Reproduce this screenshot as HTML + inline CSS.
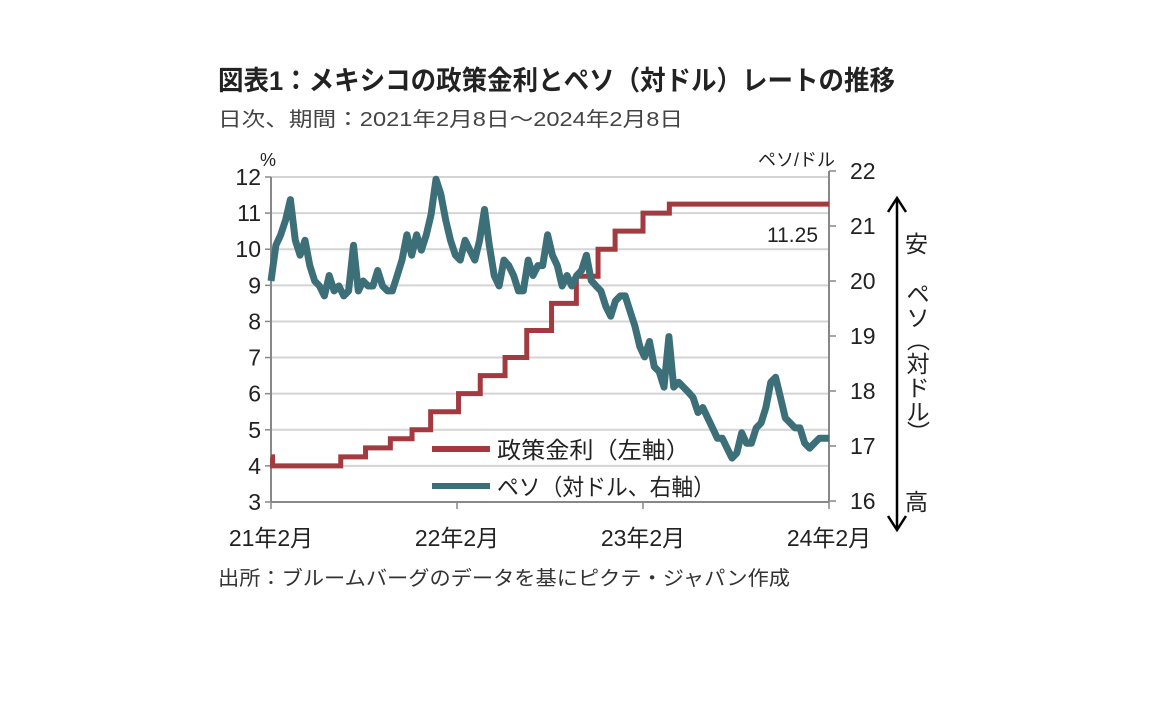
<!DOCTYPE html>
<html><head><meta charset="utf-8"><style>
body{margin:0;background:#fff;width:1152px;height:720px;overflow:hidden}
svg{display:block}
text{font-family:"Liberation Sans","Noto Sans CJK JP",sans-serif}
</style></head><body>
<svg id="chart" width="1152" height="720" viewBox="0 0 1152 720">
<text x="218" y="90" font-size="27" font-weight="bold" fill="#222" textLength="677" lengthAdjust="spacingAndGlyphs">図表1：メキシコの政策金利とペソ（対ドル）レートの推移</text>
<text x="218" y="126" font-size="20" fill="#444" textLength="465" lengthAdjust="spacingAndGlyphs">日次、期間：2021年2月8日～2024年2月8日</text>
<text x="260" y="166" font-size="18" fill="#222">%</text>
<text x="758" y="166" font-size="18" fill="#222">ペソ/ドル</text>
<g id="grid"></g><g id="axes"></g><g id="series"></g>
<text x="818" y="242" font-size="21" text-anchor="end" fill="#222">11.25</text>
<line x1="432" y1="449" x2="490" y2="449" stroke="#a23a3f" stroke-width="6"/>
<text x="497" y="458" font-size="23" fill="#222" textLength="193" lengthAdjust="spacingAndGlyphs">政策金利（左軸）</text>
<line x1="432" y1="486" x2="490" y2="486" stroke="#3d6f78" stroke-width="6"/>
<text x="497" y="495" font-size="23" fill="#222" textLength="218" lengthAdjust="spacingAndGlyphs">ペソ（対ドル、右軸）</text>
<g stroke="#000" stroke-width="2.5" fill="none">
<line x1="897" y1="198" x2="897" y2="530"/><polyline points="888,212 897,198 906,212"/><polyline points="888,516 897,530 906,516"/></g>
<text x="905" y="252" font-size="23" fill="#222">安</text>
<g font-size="23" fill="#222" text-anchor="middle">
<text x="918" y="302">ペ</text><text x="918" y="326">ソ</text><text x="918" y="348" transform="rotate(90 918 340)">（</text><text x="918" y="372">対</text><text x="918" y="396">ド</text><text x="918" y="420">ル</text><text x="918" y="440" transform="rotate(90 918 432)">）</text></g>
<text x="905" y="510" font-size="23" fill="#222">高</text>
<text x="218" y="585" font-size="20" fill="#333" textLength="572" lengthAdjust="spacingAndGlyphs">出所：ブルームバーグのデータを基にピクテ・ジャパン作成</text>
</svg>
<script>
const leftTicks=[3,4,5,6,7,8,9,10,11,12];
const rightTicks=[16,17,18,19,20,21,22];
const xLabels=["21年2月","22年2月","23年2月","24年2月"];
const xLabelMonths=[0,12,24,36];
const rateMonths=[0,0.1,4.5,6.1,7.7,9.1,10.3,12.1,13.5,15.1,16.5,18.1,19.7,21.1,22.2,24.0,25.7,36];
const rateValues=[4.25,4.0,4.25,4.5,4.75,5.0,5.5,6.0,6.5,7.0,7.75,8.5,9.25,10.0,10.5,11.0,11.25,11.25];
const pesoValues=[20.0,20.65,20.84,21.11,21.48,20.74,20.47,20.74,20.28,20.0,19.91,19.73,20.10,19.82,19.91,19.73,19.82,20.65,19.82,20.0,19.91,19.91,20.19,19.91,19.82,19.82,20.10,20.38,20.84,20.47,20.84,20.56,20.84,21.21,21.85,21.58,21.11,20.74,20.47,20.38,20.74,20.56,20.38,20.74,21.30,20.65,20.10,19.91,20.38,20.28,20.10,19.82,19.82,20.38,20.10,20.28,20.28,20.84,20.47,20.28,19.91,20.10,19.91,20.10,20.19,20.47,20.01,19.91,19.82,19.54,19.36,19.64,19.73,19.73,19.45,19.18,18.81,18.62,18.90,18.44,18.35,18.07,18.99,18.07,18.16,18.07,17.98,17.88,17.61,17.70,17.51,17.33,17.14,17.14,16.96,16.78,16.87,17.24,17.05,17.05,17.33,17.42,17.70,18.16,18.25,17.88,17.51,17.42,17.33,17.33,17.05,16.96,17.05,17.14,17.14,17.14];
const X0=271,X1=829,Y0=502,Y1=177;
const xm=m=>X0+(X1-X0)*m/36;
const yl=v=>Y0-(Y0-Y1)*(v-3)/9;
const yr=v=>501-(501-171)*(v-16)/6;
const NS="http://www.w3.org/2000/svg";
function mk(tag,attrs,parent,txt){const e=document.createElementNS(NS,tag);for(const k in attrs)e.setAttribute(k,attrs[k]);if(txt!==undefined)e.textContent=txt;parent.appendChild(e);return e;}
const grid=document.getElementById('grid'),axes=document.getElementById('axes'),series=document.getElementById('series');
leftTicks.forEach(v=>{
 if(v>3){const g=mk('line',{x1:X0,x2:X1,y1:yl(v),y2:yl(v),stroke:'#d4d4d4','stroke-width':2},grid);
 
 }
 const t=mk('text',{x:X0-10,y:yl(v)+8,'font-size':23,'text-anchor':'end',fill:'#222'},axes,String(v));
 
 
 mk('line',{x1:X0-6,x2:X0,y1:yl(v),y2:yl(v),stroke:'#888','stroke-width':1.5},axes);
});
rightTicks.forEach(v=>{
 const t=mk('text',{x:850,y:yr(v)+8,'font-size':23,fill:'#222'},axes,String(v));
 
 
 mk('line',{x1:X1,x2:X1+7,y1:yr(v),y2:yr(v),stroke:'#888','stroke-width':1.5},axes);
});
const la=mk('line',{x1:X0,x2:X0,y1:Y1,y2:Y0,stroke:'#888','stroke-width':2},axes);


const ra=mk('line',{x1:X1,x2:X1,y1:171,y2:Y0,stroke:'#888','stroke-width':2},axes);


const xa=mk('line',{x1:X0,x2:X1,y1:Y0,y2:Y0,stroke:'#888','stroke-width':2},axes);


xLabels.forEach((s,i)=>{
 mk('line',{x1:xm(xLabelMonths[i]),x2:xm(xLabelMonths[i]),y1:Y0,y2:Y0+7,stroke:'#888','stroke-width':1.5},axes);
 const t=mk('text',{x:xm(xLabelMonths[i]),y:546,'font-size':23,'text-anchor':'middle',fill:'#222'},axes,s);
 
 
});
let d='';
rateMonths.forEach((m,i)=>{d+=(i?'H'+xm(m)+'V'+yl(rateValues[i]):'M'+xm(m)+' '+yl(rateValues[i]));});
const rp=mk('path',{d:d,fill:'none',stroke:'#a23a3f','stroke-width':5},series);


const n=pesoValues.length;
const pd=pesoValues.map((v,i)=>(i?'L':'M')+xm(36*i/(n-1)).toFixed(1)+' '+yr(v).toFixed(1)).join('');
const pp=mk('path',{d:pd,fill:'none',stroke:'#3d6f78','stroke-width':7,'stroke-linejoin':'round'},series);


</script>
</body></html>
